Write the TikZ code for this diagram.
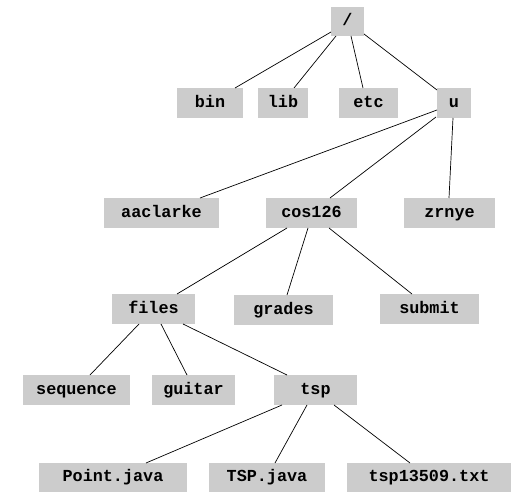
\documentclass[tikz,border=0pt]{standalone}
\usepackage{fontspec}
\setmonofont{Liberation Mono}
\definecolor{boxgray}{HTML}{CCCCCC}
\begin{document}
\begin{tikzpicture}[x=1pt,y=-1pt,
  dirbox/.style={fill=boxgray, draw=none, inner sep=0pt, minimum height=30pt,
    text height=11pt, text depth=2.4pt,
    font=\fontsize{16.8}{18}\selectfont\ttfamily\bfseries},
  link/.style={draw=black, line width=0.7pt}]
\useasboundingbox (0,0) rectangle (512,492);
% directory boxes, centres in pixel units from the top-left corner
\node[dirbox, minimum width=33pt, minimum height=29pt] (root) at (347.5,21.5) {/};
\node[dirbox, minimum width=66pt] (bin) at (210,103) {bin};
\node[dirbox, minimum width=50pt] (lib) at (283,103) {lib};
\node[dirbox, minimum width=59pt] (etc) at (368.5,103) {etc};
\node[dirbox, minimum width=34pt] (u) at (454,103) {u};
\node[dirbox, minimum width=115pt] (aaclarke) at (161.5,213) {aaclarke};
\node[dirbox, minimum width=91pt] (cos) at (311.5,213) {cos126};
\node[dirbox, minimum width=91pt] (zrnye) at (449.5,213) {zrnye};
\node[dirbox, minimum width=83pt] (files) at (153.5,309) {files};
\node[dirbox, minimum width=99pt] (grades) at (283.5,310) {grades};
\node[dirbox, minimum width=99pt] (submit) at (429.5,309) {submit};
\node[dirbox, minimum width=107pt] (sequence) at (76.5,390) {sequence};
\node[dirbox, minimum width=83pt] (guitar) at (193.5,390) {guitar};
\node[dirbox, minimum width=83pt] (tsp) at (315.5,390) {tsp};
\node[dirbox, minimum width=148pt, minimum height=29pt] (point) at (113,477.5) {Point.java};
\node[dirbox, minimum width=116pt, minimum height=29pt] (tspjava) at (267,477.5) {TSP.java};
\node[dirbox, minimum width=164pt, minimum height=29pt] (tsptxt) at (429,477.5) {tsp13509.txt};
% tree links between box edges
\path[link] ([shift={(-16.5,10.5)}]root.center) -- ([shift={(25,-15)}]bin.center);
\path[link] ([shift={(-11.5,14.5)}]root.center) -- ([shift={(11,-15)}]lib.center);
\path[link] ([shift={(3.5,14.5)}]root.center) -- ([shift={(-5.5,-15)}]etc.center);
\path[link] ([shift={(16.5,12.5)}]root.center) -- ([shift={(-17,-13)}]u.center);
\path[link] ([shift={(-17,7)}]u.center) -- ([shift={(38.5,-15)}]aaclarke.center);
\path[link] ([shift={(-18,14)}]u.center) -- ([shift={(18.5,-15)}]cos.center);
\path[link] ([shift={(-1,15)}]u.center) -- ([shift={(-0.5,-15)}]zrnye.center);
\path[link] ([shift={(-24.5,15)}]cos.center) -- ([shift={(23.5,-15)}]files.center);
\path[link] ([shift={(-3.5,15)}]cos.center) -- ([shift={(3.5,-15)}]grades.center);
\path[link] ([shift={(17.5,15)}]cos.center) -- ([shift={(-17.5,-15)}]submit.center);
\path[link] ([shift={(-14.5,15)}]files.center) -- ([shift={(13.5,-15)}]sequence.center);
\path[link] ([shift={(7.5,15)}]files.center) -- ([shift={(-6.5,-15)}]guitar.center);
\path[link] ([shift={(29.5,15)}]files.center) -- ([shift={(-28.5,-15)}]tsp.center);
\path[link] ([shift={(-33.5,15)}]tsp.center) -- ([shift={(33,-14.5)}]point.center);
\path[link] ([shift={(-8.5,15)}]tsp.center) -- ([shift={(8,-14.5)}]tspjava.center);
\path[link] ([shift={(18.5,15)}]tsp.center) -- ([shift={(-19,-14.5)}]tsptxt.center);
\end{tikzpicture}
\end{document}
